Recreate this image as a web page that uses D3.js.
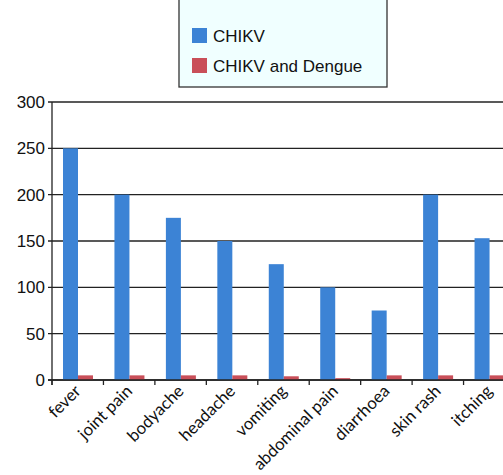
<!DOCTYPE html>
<html lang="en">
<head>
<meta charset="utf-8">
<title>CHIKV symptoms</title>
<script src="https://cdn.jsdelivr.net/npm/d3@7"></script>
<style>
  body { margin: 0; background: #fff; }
  svg { display: block; }
</style>
</head>
<body>
<script>
var symptoms = ["fever", "joint pain", "bodyache", "headache", "vomiting",
                "abdominal pain", "diarrhoea", "skin rash", "itching"];
var chikv = [250, 200, 175, 150, 125, 100, 75, 200, 153];
var chikvDengue = [5, 5, 5, 5, 4, 2, 5, 5, 5];
var seriesNames = ["CHIKV", "CHIKV and Dengue"];
var yTicks = [0, 50, 100, 150, 200, 250, 300];

var w = 503, h = 475;
var plotLeft = 52, plotTop = 102, plotRight = 515, plotBottom = 380;
var colors = ["#3c83d5", "#c94f59"];

var svg = d3.select("body").append("svg")
    .attr("width", w).attr("height", h);

var x = d3.scaleBand().domain(symptoms).range([plotLeft, plotRight]);
var y = d3.scaleLinear().domain([0, 300]).range([plotBottom, plotTop]);

// gridlines
svg.selectAll("line.grid")
    .data(yTicks)
    .enter().append("line")
    .attr("x1", plotLeft - 4).attr("x2", w)
    .attr("y1", function(d) { return y(d); })
    .attr("y2", function(d) { return y(d); })
    .attr("stroke", "#222").attr("stroke-width", 1.3);

// y axis labels
svg.selectAll("text.ylab")
    .data(yTicks)
    .enter().append("text")
    .attr("x", 45)
    .attr("y", function(d) { return y(d) + 6; })
    .attr("text-anchor", "end")
    .attr("font-family", "Liberation Sans, Arial, sans-serif")
    .attr("font-size", "17px")
    .attr("fill", "#111")
    .text(function(d) { return d; });

var bw = 15;
// CHIKV bars
svg.selectAll("rect.a")
    .data(chikv)
    .enter().append("rect")
    .attr("x", function(d, i) { return x(symptoms[i]) + 11; })
    .attr("y", function(d) { return y(d); })
    .attr("width", bw)
    .attr("height", function(d) { return plotBottom - y(d); })
    .attr("fill", colors[0]);

svg.selectAll("rect.b")
    .data(chikvDengue)
    .enter().append("rect")
    .attr("x", function(d, i) { return x(symptoms[i]) + 11 + bw; })
    .attr("y", function(d) { return y(d); })
    .attr("width", bw)
    .attr("height", function(d) { return plotBottom - y(d); })
    .attr("fill", colors[1]);

// axes lines
svg.append("line")
    .attr("x1", plotLeft).attr("x2", plotLeft)
    .attr("y1", plotTop).attr("y2", plotBottom + 5)
    .attr("stroke", "#222").attr("stroke-width", 1.3);
svg.append("line")
    .attr("x1", plotLeft - 4).attr("x2", w)
    .attr("y1", plotBottom).attr("y2", plotBottom)
    .attr("stroke", "#222").attr("stroke-width", 1.5);

// x ticks
svg.selectAll("line.xt")
    .data(symptoms)
    .enter().append("line")
    .attr("x1", function(d) { return x(d); })
    .attr("x2", function(d) { return x(d); })
    .attr("y1", plotBottom).attr("y2", plotBottom + 5)
    .attr("stroke", "#222").attr("stroke-width", 1.3);

// x labels rotated
svg.selectAll("text.xlab")
    .data(symptoms)
    .enter().append("text")
    .attr("transform", function(d) {
        return "translate(" + (x(d) + x.bandwidth() / 2) + "," + (plotBottom + 8) + ") rotate(-45)";
    })
    .attr("text-anchor", "end")
    .attr("dy", "0.35em")
    .attr("font-family", "Lato, Open Sans, sans-serif")
    .attr("font-size", "16.8px")
    .attr("fill", "#111")
    .text(function(d) { return d; });

// legend
var lg = svg.append("g");
lg.append("rect")
    .attr("x", 179).attr("y", -5)
    .attr("width", 208).attr("height", 92)
    .attr("fill", "#f0ffff")
    .attr("stroke", "#333").attr("stroke-width", 1.3);
lg.selectAll("rect.sw")
    .data(seriesNames)
    .enter().append("rect")
    .attr("x", 192)
    .attr("y", function(d, i) { return 28 + i * 30; })
    .attr("width", 15).attr("height", 15)
    .attr("fill", function(d, i) { return colors[i]; });
lg.selectAll("text.lt")
    .data(seriesNames)
    .enter().append("text")
    .attr("x", 213)
    .attr("y", function(d, i) { return 42 + i * 30; })
    .attr("font-family", "Liberation Sans, Arial, sans-serif")
    .attr("font-size", "17px")
    .attr("fill", "#111")
    .text(function(d) { return d; });
</script>
</body>
</html>
